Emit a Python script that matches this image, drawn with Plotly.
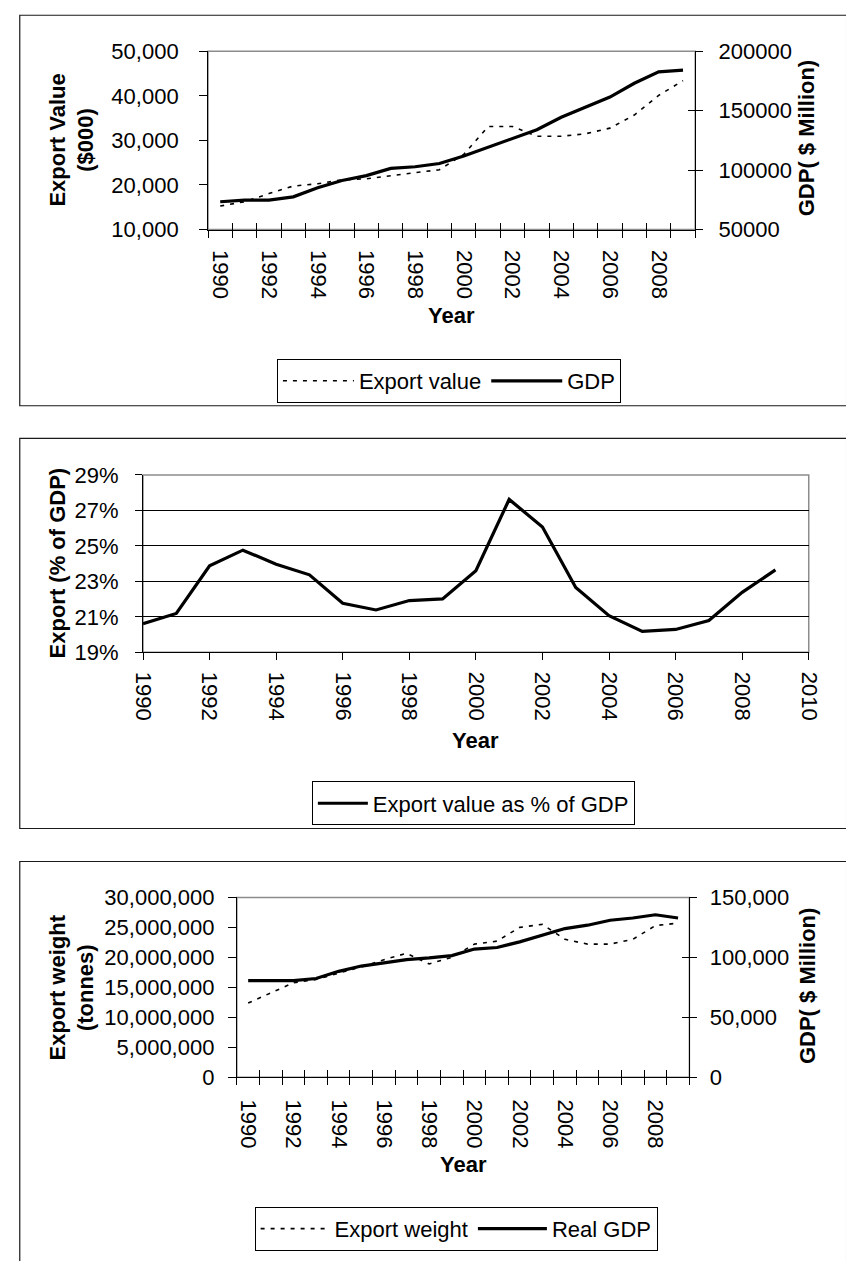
import plotly.graph_objects as go

# ---- data ----
years = list(range(1990, 2010))

export_value = [15280, 16240, 18070, 19760, 20280, 21160, 21380, 22110, 22840, 23430,
                26880, 33120, 33120, 30920, 30920, 31500, 32750, 35690, 40090, 43390]
gdp = [73400, 74770, 74770, 77520, 85230, 91280, 95410, 101470, 102840, 105600,
       111930, 119360, 126240, 133940, 144400, 153210, 161470, 173030, 182660, 184040]

export_share = [20.61, 21.19, 23.88, 24.76, 23.97, 23.37, 21.77, 21.39, 21.92, 22.01,
                23.60, 27.62, 26.07, 22.66, 21.07, 20.18, 20.29, 20.79, 22.38, 23.65]

export_weight = [12370000, 14000000, 15750000, 16300000, 17300000, 18400000, 19600000,
                 20670000, 18900000, 20000000, 22200000, 22700000, 25000000, 25500000,
                 23000000, 22200000, 22200000, 23000000, 25300000, 25700000]
real_gdp = [80500, 80500, 80500, 82300, 88300, 92700, 95400, 98100, 99500, 101400,
            106900, 108200, 112900, 118300, 124000, 126800, 130900, 132800, 135500, 132800]

label_years = list(range(1990, 2009, 2))
boundaries = [y - 0.5 for y in range(1990, 2011)]

# ---- page geometry (pixels) ----
W, H = 846, 1261
FONT = "Liberation Sans, Arial, Helvetica, sans-serif"
TICKFONT = dict(family=FONT, size=22, color="black")
DOT = "4px,6px"


def px(x):
    return x / W


def py(y):
    return 1 - y / H


fig = go.Figure()

# panel 1: export value vs GDP
fig.add_trace(go.Scatter(x=years, y=export_value, name="Export value", mode="lines",
                         line=dict(color="black", width=1.6, dash=DOT),
                         xaxis="x", yaxis="y", legend="legend"))
fig.add_trace(go.Scatter(x=years, y=gdp, name="GDP", mode="lines",
                         line=dict(color="black", width=3.2),
                         xaxis="x", yaxis="y2", legend="legend"))

# panel 2: export share of GDP
fig.add_trace(go.Scatter(x=years, y=export_share, name="Export value as % of GDP", mode="lines",
                         line=dict(color="black", width=3.2),
                         xaxis="x2", yaxis="y3", legend="legend2"))

# panel 3: export weight vs real GDP
fig.add_trace(go.Scatter(x=years, y=export_weight, name="Export weight", mode="lines",
                         line=dict(color="black", width=1.6, dash=DOT),
                         xaxis="x3", yaxis="y4", legend="legend3"))
fig.add_trace(go.Scatter(x=years, y=real_gdp, name="Real GDP", mode="lines",
                         line=dict(color="black", width=3.2),
                         xaxis="x3", yaxis="y5", legend="legend3"))

# empty traces so the inner-tick overlay axes get their subplots
for xa, ya in [("x4", "y"), ("x", "y6"), ("x5", "y4"), ("x3", "y7")]:
    fig.add_trace(go.Scatter(x=[], y=[], xaxis=xa, yaxis=ya, showlegend=False,
                             hoverinfo="skip"))

P1 = dict(x0=202, x1=704, y0=40, y1=222)
P2 = dict(x0=135, x1=821, y0=472.3, y1=653.3)
P3 = dict(x0=231.7, x1=698, y0=903.3, y1=1086.7)


def xdom(p):
    return [px(p["x0"]), px(p["x1"])]


def ydom(p):
    return [py(p["y1"]), py(p["y0"])]


def cat_xaxis(p, anchor, standoff):
    return dict(domain=xdom(p), anchor=anchor, range=[1989.5, 2009.5],
                tickmode="array", tickvals=label_years, ticktext=[str(v) for v in label_years],
                ticks="", tickangle=90, tickfont=TICKFONT, ticklabelstandoff=standoff,
                showline=True, linecolor="black", linewidth=1, showgrid=False, zeroline=False,
                minor=dict(tickmode="array", tickvals=boundaries, ticks="outside",
                           ticklen=7, tickwidth=1, tickcolor="black"))


def inner_xaxis(p, over, anchor):
    return dict(domain=xdom(p), anchor=anchor, overlaying=over, range=[1989.5, 2009.5],
                tickmode="array", tickvals=boundaries, ticks="inside", ticklen=7,
                tickcolor="black", showticklabels=False, showline=False, showgrid=False,
                zeroline=False)


layout = dict(
    width=W, height=H, margin=dict(l=0, r=0, t=0, b=0),
    paper_bgcolor="white", plot_bgcolor="white",
    font=dict(family=FONT, color="black"),
    # panel 1
    xaxis=cat_xaxis(P1, "y", 15),
    xaxis4=inner_xaxis(P1, "x", "y"),
    yaxis=dict(domain=ydom(P1), anchor="x", range=[10000, 50000], dtick=10000,
               tickformat=",", ticks="outside", ticklen=8, tickcolor="black",
               tickfont=TICKFONT, ticklabelstandoff=16, showline=True, linecolor="black",
               showgrid=False, zeroline=False),
    yaxis2=dict(domain=ydom(P1), anchor="x", overlaying="y", side="right",
                range=[50000, 200000], dtick=50000, tickformat="d", ticks="outside",
                ticklen=7, tickcolor="black", tickfont=TICKFONT, ticklabelstandoff=11,
                showline=True, linecolor="black", showgrid=False, zeroline=False),
    yaxis6=dict(domain=ydom(P1), anchor="x", overlaying="y", side="right",
                range=[50000, 200000], dtick=50000, ticks="inside", ticklen=7,
                tickcolor="black", showticklabels=False, showline=False, showgrid=False,
                zeroline=False),
    # panel 2
    xaxis2=dict(domain=xdom(P2), anchor="y3", range=[1990, 2010], dtick=2, tick0=1990,
                ticks="outside", ticklen=7, tickcolor="black", tickangle=90,
                tickfont=TICKFONT, ticklabelstandoff=7, showline=True, linecolor="black",
                showgrid=False, zeroline=False),
    yaxis3=dict(domain=ydom(P2), anchor="x2", range=[19, 29], dtick=2, tick0=19,
                ticksuffix="%", ticks="outside", ticklen=7, tickcolor="black",
                tickfont=TICKFONT, ticklabelstandoff=12, showline=True, linecolor="black",
                showgrid=False, zeroline=False,
                minor=dict(tickmode="array", tickvals=[21, 23, 25, 27], ticks="",
                           showgrid=True, gridcolor="black", gridwidth=1)),
    # panel 3
    xaxis3=cat_xaxis(P3, "y4", 17),
    xaxis5=inner_xaxis(P3, "x3", "y4"),
    yaxis4=dict(domain=ydom(P3), anchor="x3", range=[0, 30000000], dtick=5000000,
                tickformat=",", ticks="outside", ticklen=8, tickcolor="black",
                tickfont=TICKFONT, ticklabelstandoff=9, showline=True, linecolor="black",
                showgrid=False, zeroline=False),
    yaxis5=dict(domain=ydom(P3), anchor="x3", overlaying="y4", side="right",
                range=[0, 150000], dtick=50000, tickformat=",", ticks="outside",
                ticklen=7, tickcolor="black", tickfont=TICKFONT, ticklabelstandoff=8,
                showline=True, linecolor="black", showgrid=False, zeroline=False),
    yaxis7=dict(domain=ydom(P3), anchor="x3", overlaying="y4", side="right",
                range=[0, 150000], dtick=50000, ticks="inside", ticklen=7,
                tickcolor="black", showticklabels=False, showline=False, showgrid=False,
                zeroline=False),
)

LEGEND_FONT = dict(family=FONT, size=22, color="black")
for key, (lx, ly, iw) in {"legend": (273, 354, 71), "legend2": (309, 785, 50),
                          "legend3": (250, 1219, 69)}.items():
    layout[key] = dict(x=px(lx), y=py(ly), xanchor="left", yanchor="top",
                       orientation="h", bordercolor="black", borderwidth=1,
                       bgcolor="white", font=LEGEND_FONT, traceorder="normal",
                       itemwidth=iw)

fig.update_layout(**layout)

# plot-area frames (grey top/right edges) and the outer chart boxes
shapes = []
for xr, yr in [("x", "y"), ("x2", "y3"), ("x3", "y4")]:
    shapes.append(dict(type="rect", xref=f"{xr} domain", yref=f"{yr} domain",
                       x0=0, x1=1, y0=0, y1=1, line=dict(color="#8c8c8c", width=1.5),
                       layer="below"))
for top, bottom in [(3.3, 401.7), (435, 833), (866.7, 1290)]:
    shapes.append(dict(type="rect", xref="paper", yref="paper", x0=px(8), x1=px(860),
                       y0=py(bottom), y1=py(top), line=dict(color="#1a1a1a", width=1.2),
                       layer="below"))
fig.update_layout(shapes=shapes)

# axis titles
TITLE_FONT = dict(family=FONT, size=22, color="black")
titles = [
    ("<b>Export Value</b><br><b>($000)</b>", 62, 131),
    ("<b>GDP( $ Million)</b>", 819, 129),
    ("<b>Export (% of GDP)</b>", 47, 562),
    ("<b>Export weight</b><br><b>(tonnes)</b>", 62, 995),
    ("<b>GDP( $ Million)</b>", 820, 994),
]
for text, tx, ty in titles:
    fig.add_annotation(text=text, x=px(tx), y=py(ty), xref="paper", yref="paper",
                       textangle=-90, showarrow=False, xanchor="center", yanchor="middle",
                       font=TITLE_FONT)
for tx, ty in [(453, 310), (478, 743), (465, 1176)]:
    fig.add_annotation(text="<b>Year</b>", x=px(tx), y=py(ty), xref="paper", yref="paper",
                       showarrow=False, xanchor="center", yanchor="middle", font=TITLE_FONT)

# the page body gets no default margin so the figure sits at the window origin
fig.write_html("out.html", post_script="document.body.style.margin = '0';")
